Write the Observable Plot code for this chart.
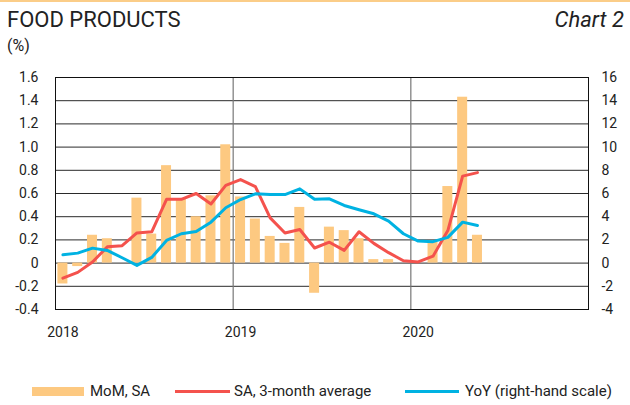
<!DOCTYPE html>
<html>
<head>
<meta charset="utf-8">
<script src="https://cdn.jsdelivr.net/npm/d3@7"></script>
<script src="https://cdn.jsdelivr.net/npm/@observablehq/plot@0.6"></script>
<style>
  html, body { margin: 0; padding: 0; background: #fff; }
  #wrap { position: relative; width: 630px; height: 405px; overflow: hidden; font-family: Roboto, sans-serif; color: #222; }
  #topline { position: absolute; left: 0; top: 0; width: 630px; height: 2px; background: #fbcd88; }
  .abs { position: absolute; white-space: nowrap; }
  #title { left: 7px; top: 6px; font-size: 22px; line-height: 28px; }
  #unit { left: 7px; top: 35px; font-size: 16px; line-height: 22px; }
  #chartno { right: 6px; top: 6px; font-size: 22px; line-height: 28px; font-style: italic; }
  #chart { position: absolute; left: 0; top: 0; }
  #legend { position: absolute; left: 0; top: 381px; width: 630px; height: 20px; font-size: 15px; }
  .sw { position: absolute; }
  .lt { position: absolute; top: 0; line-height: 20px; }
</style>
</head>
<body>
<div id="wrap">
  <div id="chart"></div>
  <div id="topline"></div>
  <div class="abs" id="title">FOOD PRODUCTS</div>
  <div class="abs" id="unit">(%)</div>
  <div class="abs" id="chartno">Chart 2</div>
  <div id="legend">
    <div class="sw" style="left:32px;top:6px;width:52px;height:9px;background:#fdc981"></div>
    <div class="lt" style="left:90px">MoM, SA</div>
    <div class="sw" style="left:175px;top:9px;width:55px;height:3px;background:#f4524d"></div>
    <div class="lt" style="left:234px">SA, 3-month average</div>
    <div class="sw" style="left:405px;top:9px;width:54px;height:3px;background:#00b2e2"></div>
    <div class="lt" style="left:465px">YoY (right-hand scale)</div>
  </div>
</div>
<script>
// Month labels (Jan 2018 .. May 2020)
const months = [
  "2018-01","2018-02","2018-03","2018-04","2018-05","2018-06","2018-07","2018-08","2018-09","2018-10","2018-11","2018-12",
  "2019-01","2019-02","2019-03","2019-04","2019-05","2019-06","2019-07","2019-08","2019-09","2019-10","2019-11","2019-12",
  "2020-01","2020-02","2020-03","2020-04","2020-05"
];
// MoM, SA (%)
const mom = [
  -0.18,-0.03,0.24,0.21,0.00,0.56,0.25,0.84,0.55,0.40,0.58,1.02,
  0.57,0.38,0.23,0.17,0.48,-0.26,0.31,0.28,0.21,0.03,0.03,0.00,
  0.00,0.18,0.66,1.43,0.24
];
// SA, 3-month average (%)
const sa3m = [
  -0.13,-0.08,0.01,0.14,0.15,0.26,0.27,0.55,0.55,0.60,0.51,0.67,
  0.72,0.66,0.39,0.26,0.29,0.13,0.18,0.11,0.27,0.17,0.09,0.02,
  0.01,0.06,0.28,0.75,0.78
];
// YoY (%), right-hand scale
const yoy = [
  0.72,0.86,1.29,1.09,0.46,-0.20,0.49,1.95,2.53,2.73,3.53,4.77,
  5.48,5.97,5.91,5.91,6.40,5.50,5.54,4.97,4.60,4.25,3.62,2.53,
  1.90,1.85,2.22,3.53,3.24
];
const yearLabels = ["2018","2019","2020"];
const leftTicks = [-0.4,-0.2,0,0.2,0.4,0.6,0.8,1.0,1.2,1.4,1.6];
const rightTicks = [-4,-2,0,2,4,6,8,10,12,14,16];

const data = months.map((m, i) => ({i, m, mom: mom[i], sa: sa3m[i], yoy: yoy[i]}));
const yearStarts = yearLabels.map((y) => months.indexOf(y + "-01"));

const chart = Plot.plot({
  width: 630,
  height: 405,
  marginTop: 77,
  marginBottom: 96,
  marginLeft: 55,
  marginRight: 42,
  style: {fontFamily: "Roboto, sans-serif", fontSize: "14px", color: "#222", background: "transparent"},
  x: {domain: [0, 36], axis: null, label: null},
  y: {domain: [-0.4, 1.6], axis: null, label: null},
  marks: [
    Plot.ruleY(leftTicks, {stroke: "#2a2a2a", strokeWidth: 1}),
    Plot.ruleX(yearStarts.slice(1), {stroke: "#777", strokeWidth: 1.2}),
    Plot.rectY(data, {x1: "i", x2: (d) => d.i + 1, y: "mom", fill: "#fdc981", insetLeft: 2.4, insetRight: 2.4}),
    Plot.lineY(data, {x: (d) => d.i + 0.5, y: "sa", stroke: "#f4524d", strokeWidth: 3}),
    Plot.lineY(data, {x: (d) => d.i + 0.5, y: (d) => d.yoy / 10, stroke: "#00b2e2", strokeWidth: 3}),
    Plot.frame({stroke: "#111", strokeWidth: 1}),
    Plot.axisY(leftTicks, {anchor: "left", label: null, tickSize: 0, tickPadding: 17, fontSize: 14,
      tickFormat: (d) => d === 0 ? "0" : d.toFixed(1)}),
    Plot.axisY(rightTicks.map((v) => v / 10), {anchor: "right", label: null, tickSize: 0, tickPadding: 13, fontSize: 14,
      tickFormat: (d) => String(rightTicks[Math.round(d * 10 / 2) + 2])}),
    Plot.axisX(yearStarts.map((s) => s + 0.5), {anchor: "bottom", label: null, tickSize: 0, tickPadding: 18, fontSize: 14,
      tickFormat: (d) => yearLabels[Math.floor(d / 12)]})
  ]
});
document.getElementById("chart").appendChild(chart);
</script>
</body>
</html>
